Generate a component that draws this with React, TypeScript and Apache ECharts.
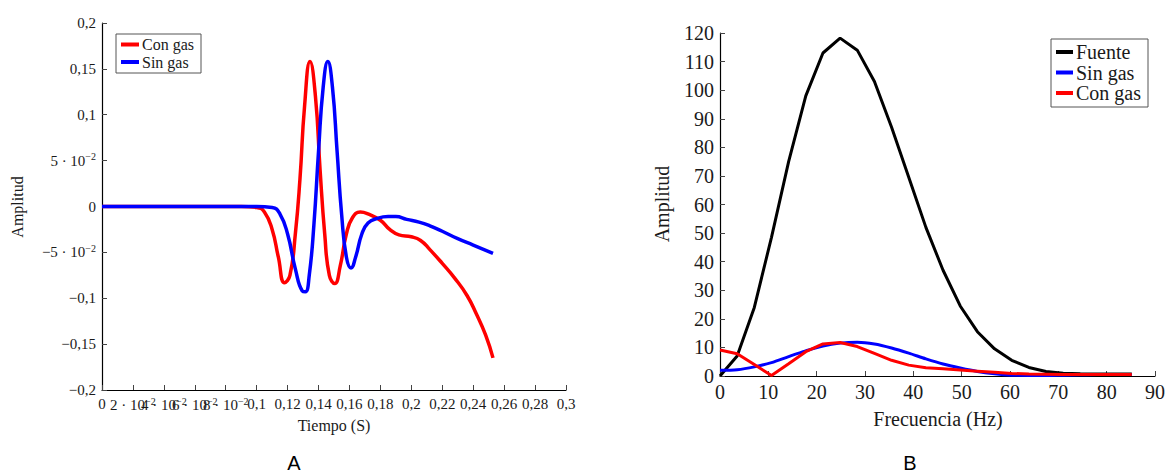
import React, { useEffect, useRef } from "react";
import * as echarts from "echarts";

// ---------- Panel A: time domain ----------
const conGasTime: [number, number][] = [
  [0, 0], [0.05, 0], [0.09, 0], [0.1, -0.001], [0.105, -0.006], [0.11, -0.025],
  [0.114, -0.055], [0.118, -0.083], [0.1215, -0.075], [0.125, -0.03], [0.128, 0.03],
  [0.131, 0.11], [0.1345, 0.158], [0.138, 0.12], [0.141, 0.04], [0.144, -0.03],
  [0.147, -0.075], [0.1505, -0.084], [0.154, -0.065], [0.158, -0.03], [0.162, -0.012],
  [0.167, -0.006], [0.172, -0.008], [0.18, -0.015], [0.186, -0.025], [0.192, -0.031],
  [0.2, -0.033], [0.206, -0.037], [0.212, -0.047], [0.22, -0.062], [0.228, -0.078],
  [0.236, -0.097], [0.242, -0.117], [0.248, -0.14], [0.2528, -0.165],
];
const sinGasTime: [number, number][] = [
  [0, 0], [0.05, 0], [0.1, 0], [0.11, -0.001], [0.115, -0.008], [0.12, -0.03],
  [0.125, -0.068], [0.1295, -0.092], [0.1315, -0.093], [0.134, -0.075], [0.137, -0.02],
  [0.14, 0.06], [0.143, 0.13], [0.146, 0.158], [0.149, 0.13], [0.152, 0.06],
  [0.155, -0.01], [0.158, -0.055], [0.161, -0.067], [0.164, -0.055], [0.168, -0.03],
  [0.172, -0.018], [0.178, -0.013], [0.185, -0.011], [0.19, -0.011], [0.197, -0.014],
  [0.205, -0.017], [0.212, -0.021], [0.22, -0.027], [0.23, -0.035], [0.24, -0.042],
  [0.2528, -0.051],
];
const timeTicks = [0, 0.02, 0.04, 0.06, 0.08, 0.1, 0.12, 0.14, 0.16, 0.18, 0.2, 0.22, 0.24, 0.26, 0.28, 0.3];
const timeTickLabels = [
  "0", "{m|2 · 10}{s|−2}", "{m|4 · 10}{s|−2}", "{m|6 · 10}{s|−2}", "{m|8 · 10}{s|−2}",
  "0,1", "0,12", "0,14", "0,16", "0,18", "0,2", "0,22", "0,24", "0,26", "0,28", "0,3",
];
const ampTicksA = [-0.2, -0.15, -0.1, -0.05, 0, 0.05, 0.1, 0.15, 0.2];
const ampTickLabelsA = [
  "−0,2", "−0,15", "−0,1", "{m|−5 · 10}{s|−2}", "0", "{m|5 · 10}{s|−2}", "0,1", "0,15", "0,2",
];
const legendA = ["Con gas", "Sin gas"];

// ---------- Panel B: frequency domain ----------
const freq = [0, 3.55, 7.1, 10.65, 14.2, 17.75, 21.3, 24.85, 28.4, 31.95, 35.5, 39.05, 42.6,
  46.15, 49.7, 53.25, 56.8, 60.35, 63.9, 67.45, 71, 74.55, 78.1, 81.65, 85.2];
const fuente = [0, 7, 24, 48.5, 75, 98, 113, 118.2, 114, 103, 87, 69.5, 52, 37, 24.5, 15.5,
  9.5, 5.5, 3, 1.6, 1, 0.8, 0.7, 0.7, 0.7];
const sinGasFreq = [2, 2.2, 3.2, 4.7, 6.8, 8.8, 10.5, 11.5, 11.8, 11.2, 9.8, 8, 6, 4.2, 2.8,
  1.6, 0.8, 0.3, 0.2, 0.2, 0.3, 0.4, 0.5, 0.5, 0.5];
const conGasFreq = [9.1, 7.8, 4, 0.2, 4.3, 8.5, 11.2, 11.7, 10.3, 7.9, 5.5, 3.8, 2.9, 2.5, 2.1,
  1.7, 1.3, 0.9, 0.7, 0.6, 0.5, 0.5, 0.5, 0.5, 0.5];
const legendB = ["Fuente", "Sin gas", "Con gas"];

const COLORS: Record<string, string> = { "Con gas": "#ff0000", "Sin gas": "#0000ff", Fuente: "#000000" };
const SERIF = "Liberation Serif";
const TXT = "#1a1a1a";

function labelFrom(ticks: number[], labels: string[]) {
  return (v: number) => {
    const i = ticks.findIndex((t) => Math.abs(t - v) < 1e-6);
    return i >= 0 ? labels[i] : "";
  };
}

function legendGraphic(names: string[], x: number, y: number, w: number, h: number,
  rowY: number[], lineW: number, fs: number) {
  const children: any[] = [
    { type: "rect", shape: { x, y, width: w, height: h }, style: { fill: "#fff", stroke: "#555", lineWidth: 1 } },
  ];
  names.forEach((n, i) => {
    children.push({
      type: "line", shape: { x1: x + 5, y1: rowY[i], x2: x + 5 + lineW, y2: rowY[i] },
      style: { stroke: COLORS[n], lineWidth: 4 },
    });
    children.push({
      type: "text", x: x + 8 + lineW, y: rowY[i],
      style: { text: n, fontSize: fs, fontFamily: SERIF, fill: TXT, align: "left", verticalAlign: "middle" },
    });
  });
  return { type: "group", z: 100, children };
}

export default function App() {
  const ref = useRef<HTMLDivElement>(null);
  useEffect(() => {
    if (!ref.current) return;
    const chart = echarts.init(ref.current, null, { renderer: "svg" });
    const richA = {
      m: { fontSize: 15, fontFamily: SERIF, color: TXT },
      s: { fontSize: 10, fontFamily: SERIF, color: TXT, padding: [0, 0, 8, 0] },
    };
    const axisCommon = (fs: number) => ({
      axisLine: { show: true, onZero: false, lineStyle: { color: "#000", width: 1.2 } },
      axisTick: { show: true, inside: true, length: 5, lineStyle: { color: "#444", width: 1 } },
      splitLine: { show: false },
      axisLabel: { fontSize: fs, fontFamily: SERIF, color: TXT, margin: 6 },
    });
    const option: any = {
      animation: false,
      backgroundColor: "#fff",
      grid: [
        { left: 102, top: 23, width: 464, height: 367 },
        { left: 720, top: 33, width: 436, height: 343 },
      ],
      xAxis: [
        {
          type: "value", gridIndex: 0, min: 0, max: 0.3, interval: 0.02,
          ...axisCommon(15),
          axisLabel: {
            fontSize: 15, fontFamily: SERIF, color: TXT, margin: 6, showMinLabel: true, showMaxLabel: true,
            hideOverlap: false,
            formatter: labelFrom(timeTicks, timeTickLabels), rich: richA,
          },
        },
        {
          type: "value", gridIndex: 1, min: 0, max: 90, interval: 10,
          ...axisCommon(20),
        },
      ],
      yAxis: [
        {
          type: "value", gridIndex: 0, min: -0.2, max: 0.2, interval: 0.05,
          ...axisCommon(15),
          axisLabel: {
            fontSize: 15, fontFamily: SERIF, color: TXT, margin: 6,
            formatter: labelFrom(ampTicksA, ampTickLabelsA), rich: richA,
          },
        },
        {
          type: "value", gridIndex: 1, min: 0, max: 120, interval: 10,
          ...axisCommon(20),
        },
      ],
      series: [
        {
          name: "Con gas", type: "line", xAxisIndex: 0, yAxisIndex: 0, data: conGasTime,
          showSymbol: false, symbol: "none", smooth: 0.5,
          lineStyle: { color: COLORS["Con gas"], width: 3.5 }, itemStyle: { color: COLORS["Con gas"] },
        },
        {
          name: "Sin gas", type: "line", xAxisIndex: 0, yAxisIndex: 0, data: sinGasTime,
          showSymbol: false, symbol: "none", smooth: 0.5,
          lineStyle: { color: COLORS["Sin gas"], width: 3.5 }, itemStyle: { color: COLORS["Sin gas"] },
        },
        {
          name: "Fuente", type: "line", xAxisIndex: 1, yAxisIndex: 1,
          data: freq.map((f, i) => [f, fuente[i]]),
          showSymbol: false, symbol: "none",
          lineStyle: { color: COLORS.Fuente, width: 3 }, itemStyle: { color: COLORS.Fuente },
        },
        {
          name: "Sin gas", type: "line", xAxisIndex: 1, yAxisIndex: 1,
          data: freq.map((f, i) => [f, sinGasFreq[i]]),
          showSymbol: false, symbol: "none", smooth: 0.3,
          lineStyle: { color: COLORS["Sin gas"], width: 3 }, itemStyle: { color: COLORS["Sin gas"] },
        },
        {
          name: "Con gas", type: "line", xAxisIndex: 1, yAxisIndex: 1,
          data: freq.map((f, i) => [f, conGasFreq[i]]),
          showSymbol: false, symbol: "none",
          lineStyle: { color: COLORS["Con gas"], width: 3 }, itemStyle: { color: COLORS["Con gas"] },
        },
      ],
      graphic: [
        legendGraphic(legendA, 116, 34, 85, 39, [44.5, 62], 18, 16),
        legendGraphic(legendB, 1051, 39, 97, 68, [52, 72.5, 93], 17, 20),
        { type: "text", x: 17, y: 207, rotation: Math.PI / 2,
          style: { text: "Amplitud", fontSize: 16, fontFamily: SERIF, fill: TXT, align: "center", verticalAlign: "middle" } },
        { type: "text", x: 334, y: 425,
          style: { text: "Tiempo (S)", fontSize: 16, fontFamily: SERIF, fill: TXT, align: "center", verticalAlign: "middle" } },
        { type: "text", x: 662, y: 204, rotation: Math.PI / 2,
          style: { text: "Amplitud", fontSize: 20, fontFamily: SERIF, fill: TXT, align: "center", verticalAlign: "middle" } },
        { type: "text", x: 938, y: 419,
          style: { text: "Frecuencia (Hz)", fontSize: 20, fontFamily: SERIF, fill: TXT, align: "center", verticalAlign: "middle" } },
        { type: "text", x: 294, y: 463,
          style: { text: "A", fontSize: 20, fontFamily: "Liberation Sans", fill: "#000", align: "center", verticalAlign: "middle" } },
        { type: "text", x: 910, y: 463,
          style: { text: "B", fontSize: 20, fontFamily: "Liberation Sans", fill: "#000", align: "center", verticalAlign: "middle" } },
      ],
    };
    chart.setOption(option);
    return () => chart.dispose();
  }, []);
  return (
    <div
      ref={ref}
      style={{ position: "fixed", left: 0, top: 0, width: 1168, height: 475, background: "#fff" }}
    />
  );
}
